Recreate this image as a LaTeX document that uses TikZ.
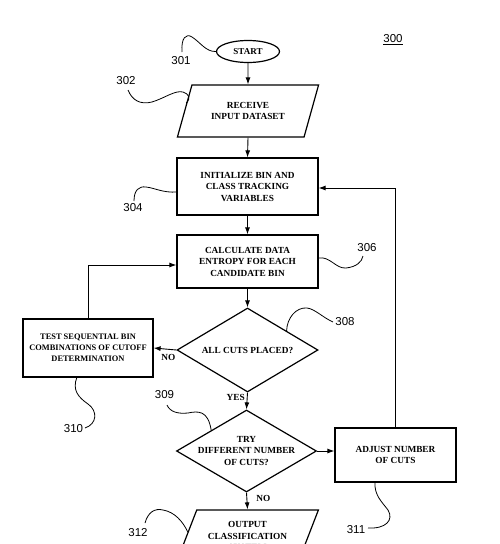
\documentclass[tikz,border=0pt]{standalone}
\usepackage{fontspec}
\setmainfont{Liberation Serif}
\newfontfamily\numfont{Liberation Sans}
\usetikzlibrary{shapes.geometric,arrows.meta,calc}
\tikzset{
  stepbox/.style={draw, line width=1.2pt, inner sep=0pt, align=center,
    font=\bfseries\fontsize{9.3}{11.5}\selectfont},
  parbox/.style={draw, line width=1.2pt, inner sep=0pt, align=center, trapezium,
    trapezium left angle=61.7, trapezium right angle=118.3, trapezium stretches=true,
    minimum width=142pt, minimum height=52pt, font=\bfseries\fontsize{9.3}{11.5}\selectfont},
  decision/.style={draw, line width=1.2pt, diamond, inner sep=0pt, shape aspect=1.68, align=center,
    font=\bfseries\fontsize{9.3}{11.5}\selectfont},
  txt/.style={align=center, inner sep=0pt, font=\bfseries\fontsize{9.3}{11.5}\selectfont},
  flow/.style={line width=0.9pt, -{Latex[length=7pt,width=5pt]}},
  lead/.style={line width=0.8pt},
  refnum/.style={inner sep=0pt, font=\numfont\fontsize{11.5}{12}\selectfont},
  yesno/.style={inner sep=0pt, font=\bfseries\fontsize{9.3}{11}\selectfont}
}
\begin{document}
\begin{tikzpicture}[x=1pt,y=-1pt]
\useasboundingbox (0,0) rectangle (500,544);
\clip (0,0) rectangle (500,544);
\fill[white] (0,0) rectangle (500,544);

% nodes
\node[draw, line width=1.2pt, ellipse, minimum width=63pt, minimum height=22pt, inner sep=0pt,
  font=\bfseries\fontsize{9}{11}\selectfont] (start) at (248,51.5) {START};
\node[parbox] (recv) at (248,111) {RECEIVE\\INPUT DATASET};
\node[stepbox, minimum width=141pt, minimum height=57pt] (init) at (247.5,186.5) {INITIALIZE BIN AND\\CLASS TRACKING\\VARIABLES};
\node[stepbox, minimum width=141pt, minimum height=53pt] (calc) at (247.5,261.5) {CALCULATE DATA\\ENTROPY FOR EACH\\CANDIDATE BIN};
\node[decision, minimum width=141pt, minimum height=84pt] (d1) at (247.5,350) {ALL CUTS PLACED?};
\node[stepbox, minimum width=130pt, minimum height=58pt, font=\bfseries\fontsize{8.4}{11}\selectfont] (test) at (88,348) {TEST SEQUENTIAL BIN\\COMBINATIONS OF CUTOFF\\DETERMINATION};
\node[decision, minimum width=140pt, minimum height=82pt] (d2) at (246.5,451) {};
\node[txt] (d2t) at (d2.center) {TRY\\DIFFERENT NUMBER\\OF CUTS?};
\node[stepbox, minimum width=121pt, minimum height=54pt] (adj) at (395.5,455) {ADJUST NUMBER\\OF CUTS};
\node[parbox] (out) at (247.5,536) {OUTPUT\\CLASSIFICATION\\SYSTEM};

% connectors
\draw[flow] (start) -- (recv.north);
\draw[flow] (recv.south) -- (init.north);
\draw[flow] (init) -- (calc);
\draw[flow] (calc) -- (d1.north);
\draw[flow] (d1.south) -- node[yesno, pos=0.3, left=2pt] (yes) {YES} (d2.north);
\draw[flow] (d1.west) -- node[yesno, below=5pt, pos=0.35] (no1) {NO} (test.east);
\coordinate (calcin) at ([yshift=-3.5pt]calc.west);
\draw[flow] (test.north) |- (calcin);
\coordinate (initin) at ([yshift=-1.5pt]init.east);
\draw[flow] (adj.north) |- (initin);
\draw[flow] (d2.east) -- (d2.east -| adj.west);
\draw[flow] (d2.south) -- node[yesno, pos=0.35, right=9pt] (no2) {NO} (out.north);

% reference numerals
\node[refnum] (n300) at (393,40) {\underline{300}};
\node[refnum] (n301) at (181,61) {301};
\node[refnum] (n302) at (126,81) {302};
\node[refnum] (n304) at (133,208) {304};
\node[refnum] (n306) at (367,248) {306};
\node[refnum] (n308) at (345,322) {308};
\node[refnum] (n309) at (164.5,395) {309};
\node[refnum] (n310) at (73.5,429) {310};
\node[refnum] (n311) at (356,530) {311};
\node[refnum] (n312) at (138,533) {312};

% leader lines
\draw[lead] (182,52) .. controls (181,38) and (186,33) .. (192,37)
  .. controls (200,42) and (206,52) .. (start.west);
\draw[lead] (128,90) .. controls (132,100) and (140,105) .. (152,102)
  .. controls (165,98) and (175,90) .. (183,92)
  .. controls (189,94) and (191,98) .. ($(recv.top left corner)!0.35!(recv.bottom left corner)$);
\draw[lead] (134,201) .. controls (134,190) and (139,186) .. (146,187)
  .. controls (155,188) and (163,193) .. (177,192);
\draw[lead] (calc.east |- 0,258) .. controls (330,256) and (336,269) .. (346,268)
  .. controls (356,267) and (362,262) .. (363,256);
\draw[lead] ($(d1.north)!0.55!(d1.east)$) .. controls (287,318) and (296,307) .. (307,308)
  .. controls (315,309) and (322,317) .. (333,322);
\draw[lead] (167,405) .. controls (170,412) and (178,414) .. (188,413)
  .. controls (198,411) and (208,410) .. ($(d2.north)!0.5!(d2.west)$);
\draw[lead] (77,377) .. controls (72,390) and (78,397) .. (88,404)
  .. controls (98,411) and (97,424) .. (85,428);
\draw[lead] (375,482) .. controls (374,495) and (382,502) .. (388,510)
  .. controls (394,520) and (386,529) .. (368,528);
\draw[lead] (145,523) .. controls (148,512) and (155,508) .. (163,510)
  .. controls (175,512) and (183,522) .. ($(out.top left corner)!0.42!(out.bottom left corner)$);
\end{tikzpicture}
\end{document}
